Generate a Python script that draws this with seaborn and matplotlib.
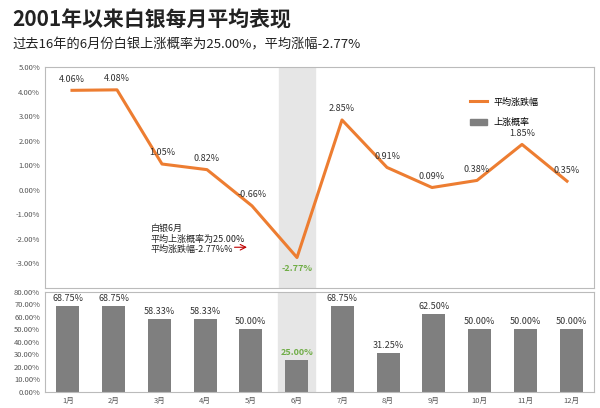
import seaborn as sns
import matplotlib.pyplot as plt
from matplotlib.patches import Patch
from matplotlib.lines import Line2D
import pandas as pd
import numpy as np

plt.rcParams["font.family"] = ["Noto Sans CJK JP", "Noto Sans CJK SC", "DejaVu Sans"]

months = ["1月", "2月", "3月", "4月", "5月", "6月", "7月", "8月", "9月", "10月", "11月", "12月"]
avg_change = [4.06, 4.08, 1.05, 0.82, -0.66, -2.77, 2.85, 0.91, 0.09, 0.38, 1.85, 0.35]
up_prob = [68.75, 68.75, 58.33, 58.33, 50.00, 25.00, 68.75, 31.25, 62.50, 50.00, 50.00, 50.00]

df = pd.DataFrame({"month": months, "change": avg_change, "prob": up_prob})
df["x"] = np.arange(len(months))

orange = "#ED7D31"
grey = "#7F7F7F"
green = "#70AD47"

fig = plt.figure(figsize=(6, 4.08), dpi=100)
fig.patch.set_facecolor("white")
fig.text(0.02, 0.935, "2001年以来白银每月平均表现", fontsize=15, fontweight="bold", color="#222222")
fig.text(0.02, 0.88, "过去16年的6月份白银上涨概率为25.00%，平均涨幅-2.77%", fontsize=9.5, color="#222222")

ax1 = fig.add_axes([0.075, 0.295, 0.915, 0.54])
ax2 = fig.add_axes([0.075, 0.04, 0.915, 0.245])

for ax in (ax1, ax2):
    ax.set_facecolor("white")
    ax.axvspan(4.6, 5.4, color="#E6E6E6", zorder=0)
    ax.set_xlim(-0.6, 11.6)
    for s in ax.spines.values():
        s.set_color("#BBBBBB")
    ax.tick_params(length=0, labelsize=5.5, colors="#555555")

sns.lineplot(data=df, x="x", y="change", ax=ax1, color=orange, linewidth=2.2, legend=False)
ax1.set_ylim(-4, 5)
ticks1 = np.arange(-3, 5.1, 1)
ax1.set_yticks(ticks1)
ax1.set_yticklabels([f"{v:.2f}%" for v in ticks1])
ax1.set_xticks([])
ax1.set_xlabel("")
ax1.set_ylabel("")
for x, v in zip(df["x"], df["change"]):
    c = green if x == 5 else "#333333"
    dy = -0.55 if x == 5 else 0.35
    ax1.text(x, v + dy, f"{v:.2f}%", ha="center", fontsize=6.5, color=c,
             fontweight="bold" if x == 5 else "normal")
ax1.text(1.75, -2.55, "白银6月\n平均上涨概率为25.00%\n平均涨跌幅-2.77%%", fontsize=6.5, color="#222222", linespacing=1.2)
ax1.annotate("", xy=(3.95, -2.35), xytext=(3.55, -2.35),
             arrowprops=dict(arrowstyle="->", color="#C00000", lw=0.8))
handles = [Line2D([], [], color=orange, lw=2.2), Patch(color=grey)]
ax1.legend(handles, ["平均涨跌幅", "上涨概率"], loc="upper left", bbox_to_anchor=(0.76, 0.9),
           frameon=False, fontsize=6.5, handlelength=1.8, labelspacing=1.3)

sns.barplot(data=df, x="x", y="prob", ax=ax2, color=grey, width=0.5, saturation=1)
ax2.set_ylim(0, 80)
ax2.set_yticks(np.arange(0, 81, 10))
ax2.set_yticklabels([f"{v:.2f}%" for v in np.arange(0, 81, 10)])
ax2.set_xticks(df["x"])
ax2.set_xticklabels(months)
ax2.set_xlabel("")
ax2.set_ylabel("")
for x, v in zip(df["x"], df["prob"]):
    c = green if x == 5 else "#333333"
    ax2.text(x, v + 4, f"{v:.2f}%", ha="center", fontsize=6.5, color=c,
             fontweight="bold" if x == 5 else "normal")

fig.savefig("out.png", dpi=100)
